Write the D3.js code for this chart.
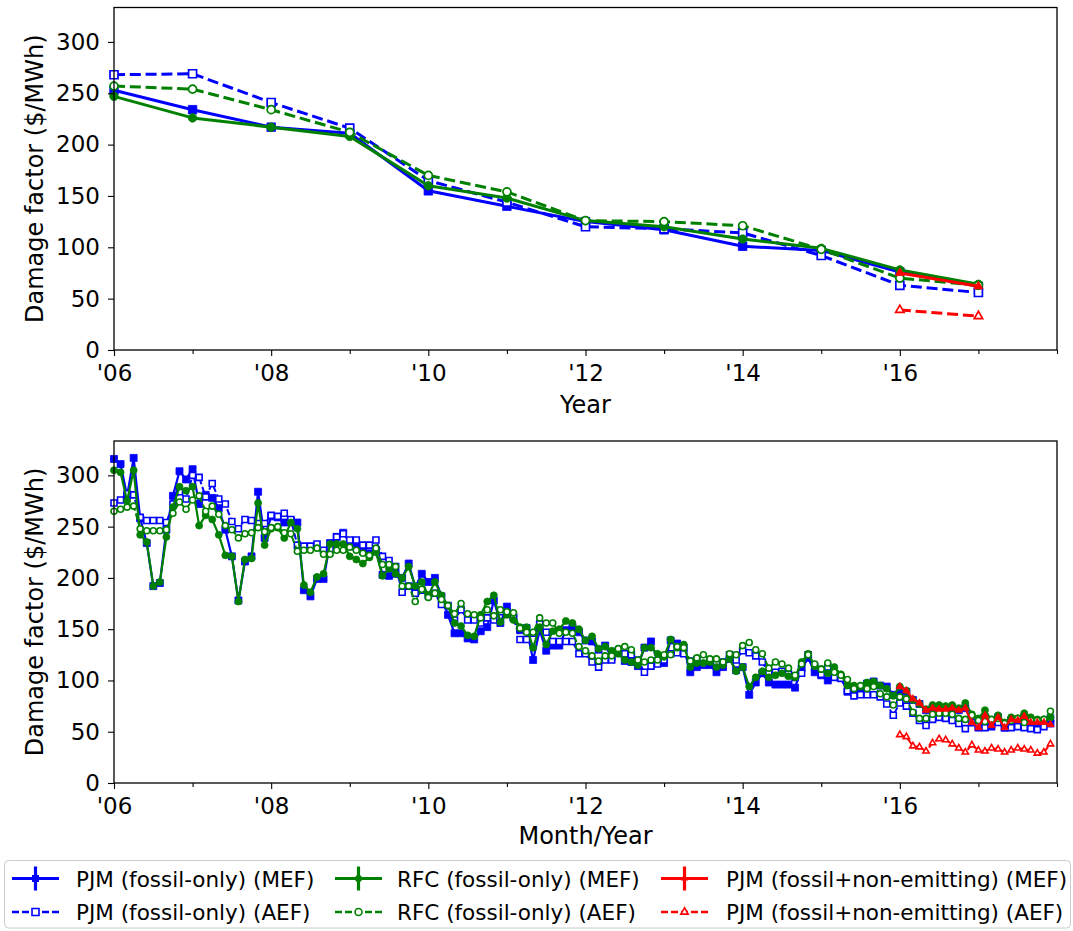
<!DOCTYPE html>
<html>
<head>
<meta charset="utf-8">
<script src="https://d3js.org/d3.v7.min.js"></script>
<style>
  body { margin: 0; background: #fff; }
  svg { display: block; font-family: "DejaVu Sans", sans-serif; }
</style>
</head>
<body>
<script>
// ---- annual damage factors ($/MWh) ----
var years = [2006, 2007, 2008, 2009, 2010, 2011, 2012, 2013, 2014, 2015, 2016, 2017];
var pjmMefYear = [253, 234, 217, 211, 155, 140, 125, 117, 101, 97, 76, 62];
var pjmAefYear = [268, 269, 241, 216, 165, 144, 120, 118, 114, 92, 63, 56];
var rfcMefYear = [247, 226, 217, 208, 160, 148, 126, 120, 108, 99, 78, 64];
var rfcAefYear = [257, 254, 234, 212, 170, 154, 126, 125, 121, 98, 70, 63];
var nonEmitYears = [2016, 2017];
var pjmNeMefYear = [75, 62];
var pjmNeAefYear = [39, 33];

// ---- monthly damage factors, Jan 2006 .. Dec 2017 ----
var months = d3.range(144).map(function(i) { return 2006 + i / 12; });
var pjmMefMonth = [
  316, 311, 280, 317, 258, 234, 192, 195, 247, 280, 304, 296,
  306, 272, 281, 278, 268, 247, 221, 178, 216, 221, 284, 239,
  260, 259, 254, 256, 254, 188, 182, 199, 199, 234, 240, 244,
  234, 230, 226, 224, 227, 203, 202, 204, 200, 214, 191, 204,
  196, 200, 182, 164, 146, 146, 141, 140, 148, 152, 178, 156,
  172, 162, 149, 151, 120, 149, 129, 134, 134, 149, 152, 147,
  139, 138, 130, 134, 123, 127, 119, 118, 114, 132, 138, 119,
  117, 139, 136, 132, 108, 113, 115, 115, 108, 113, 121, 110,
  113, 86, 98, 107, 98, 96, 96, 96, 93, 112, 122, 108,
  105, 100, 106, 103, 89, 88, 91, 97, 99, 95, 94, 86,
  90, 89, 81, 77, 71, 73, 72, 72, 73, 71, 73, 59,
  54, 64, 55, 64, 54, 61, 60, 64, 59, 59, 59, 58
];
var pjmAefMonth = [
  273, 276, 282, 281, 259, 256, 256, 256, 254, 272, 284, 277,
  300, 298, 279, 292, 277, 272, 255, 248, 257, 256, 253, 253,
  261, 260, 263, 257, 232, 231, 231, 233, 227, 228, 240, 243,
  237, 237, 232, 232, 237, 221, 217, 211, 186, 192, 185, 188,
  183, 185, 174, 173, 159, 169, 159, 159, 156, 161, 159, 167,
  167, 161, 140, 140, 146, 155, 147, 138, 138, 138, 138, 126,
  126, 118, 113, 120, 120, 129, 126, 125, 120, 108, 114, 116,
  120, 126, 127, 126, 119, 120, 116, 118, 116, 118, 125, 120,
  129, 127, 124, 118, 107, 108, 109, 106, 103, 107, 125, 113,
  106, 113, 103, 102, 90, 85, 86, 86, 86, 84, 77, 66,
  78, 75, 68, 61, 56, 62, 64, 63, 61, 58, 53, 59,
  55, 54, 57, 59, 54, 54, 55, 54, 53, 52, 55, 63
];
var rfcMefMonth = [
  305, 303, 275, 305, 242, 235, 192, 196, 240, 269, 289, 285,
  289, 251, 261, 257, 242, 222, 221, 177, 218, 219, 273, 232,
  248, 249, 239, 254, 248, 193, 186, 201, 204, 233, 233, 233,
  221, 218, 214, 220, 225, 202, 209, 204, 200, 211, 192, 196,
  183, 196, 183, 173, 156, 153, 144, 143, 164, 177, 183, 157,
  164, 159, 152, 152, 132, 152, 135, 148, 150, 158, 156, 150,
  139, 143, 131, 133, 129, 126, 120, 118, 115, 132, 132, 126,
  123, 140, 132, 135, 113, 117, 117, 118, 113, 115, 121, 109,
  113, 94, 103, 109, 103, 105, 107, 104, 103, 118, 126, 114,
  111, 107, 113, 106, 95, 95, 94, 98, 99, 95, 92, 85,
  94, 90, 81, 77, 72, 76, 76, 75, 76, 73, 78, 67,
  63, 71, 61, 66, 59, 64, 63, 68, 64, 62, 62, 64
];
var rfcAefMonth = [
  265, 267, 269, 270, 248, 246, 246, 246, 247, 263, 274, 267,
  276, 280, 265, 270, 262, 251, 247, 239, 243, 244, 249, 245,
  249, 250, 244, 243, 226, 227, 227, 229, 223, 223, 227, 227,
  230, 227, 224, 222, 229, 213, 213, 211, 192, 192, 177, 189,
  181, 185, 179, 173, 165, 175, 165, 164, 161, 169, 163, 169,
  167, 166, 151, 147, 147, 161, 156, 156, 146, 147, 146, 133,
  129, 124, 119, 124, 124, 131, 133, 130, 120, 118, 120, 120,
  125, 125, 133, 132, 119, 122, 125, 121, 121, 118, 126, 125,
  134, 137, 130, 126, 112, 118, 116, 112, 105, 116, 125, 116,
  111, 117, 108, 105, 101, 92, 95, 92, 94, 87, 84, 76,
  84, 82, 69, 63, 63, 67, 68, 68, 67, 63, 62, 66,
  61, 60, 62, 63, 58, 61, 63, 59, 61, 61, 62, 70
];
var nonEmitMonths = months.slice(120);
var pjmNeMefMonth = [
  94, 90, 82, 78, 71, 73, 72, 72, 73, 71, 73, 59,
  54, 66, 56, 64, 54, 62, 61, 65, 59, 59, 59, 57
];
var pjmNeAefMonth = [
  47, 45, 36, 35, 31, 39, 43, 42, 38, 34, 30, 37,
  32, 31, 34, 33, 30, 32, 34, 33, 32, 29, 30, 38
];

var majorYears = [2006, 2008, 2010, 2012, 2014, 2016];
var minorYears = [2007, 2009, 2011, 2013, 2015, 2017, 2018];
var yTicks = [0, 50, 100, 150, 200, 250, 300];

// series look, in drawing order
var seriesDefs = [
  { name: "PJM (fossil-only) (MEF)", color: "#0000ff", shape: "square", kind: "mef" },
  { name: "PJM (fossil-only) (AEF)", color: "#0000ff", shape: "square", kind: "aef" },
  { name: "RFC (fossil-only) (MEF)", color: "#008000", shape: "circle", kind: "mef" },
  { name: "RFC (fossil-only) (AEF)", color: "#008000", shape: "circle", kind: "aef" },
  { name: "PJM (fossil+non-emitting) (MEF)", color: "#ff0000", shape: "triangle", kind: "mef" },
  { name: "PJM (fossil+non-emitting) (AEF)", color: "#ff0000", shape: "triangle", kind: "aef" }
];

var annual = [
  [years, pjmMefYear], [years, pjmAefYear], [years, rfcMefYear],
  [years, rfcAefYear], [nonEmitYears, pjmNeMefYear], [nonEmitYears, pjmNeAefYear]
];
var monthly = [
  [months, pjmMefMonth], [months, pjmAefMonth], [months, rfcMefMonth],
  [months, rfcAefMonth], [nonEmitMonths, pjmNeMefMonth], [nonEmitMonths, pjmNeAefMonth]
];

var svg = d3.select("body").append("svg")
    .attr("width", 1073)
    .attr("height", 931);

var x = d3.scaleLinear().domain([2006, 2018]).range([114, 1057]);

function markerPath(shape, size) {
  // size = marker width in px
  if (shape == "square") return d3.symbol().type(d3.symbolSquare).size(size * size)();
  if (shape == "circle") return d3.symbol().type(d3.symbolCircle).size(Math.PI * size * size / 4)();
  return d3.symbol().type(d3.symbolTriangle).size(Math.sqrt(3) / 4 * size * size * 1.1)();
}

function drawPanel(top, bottom, data, st, xTitle, titleY) {
  var y = d3.scaleLinear().domain([0, 333.5]).range([bottom, top]);
  var g = svg.append("g");

  var line = d3.line()
      .x(function(d) { return x(d[0]); })
      .y(function(d) { return y(d[1]); });

  data.forEach(function(s, i) {
    var def = seriesDefs[i];
    var pts = s[0].map(function(t, j) { return [t, s[1][j]]; });
    var aef = def.kind == "aef";

    g.append("path")
        .datum(pts)
        .attr("d", line)
        .attr("fill", "none")
        .attr("stroke", def.color)
        .attr("stroke-width", aef ? st.aefWidth : st.mefWidth)
        .attr("stroke-dasharray", aef ? st.dash : null)
        .attr("stroke-linejoin", "round");

    g.selectAll(".m" + i)
        .data(pts)
        .enter()
        .append("path")
        .attr("class", "m" + i)
        .attr("transform", function(d) { return "translate(" + x(d[0]) + "," + y(d[1]) + ")"; })
        .attr("d", markerPath(def.shape, aef ? st.openSize : st.fillSize))
        .attr("fill", aef ? "#fff" : def.color)
        .attr("stroke", def.color)
        .attr("stroke-width", aef ? st.openStroke : 0.8);
  });

  // ticks
  var xMajor = g.append("g")
      .attr("transform", "translate(0," + bottom + ")")
      .call(d3.axisBottom(x).tickValues(majorYears).tickSize(6).tickPadding(9)
        .tickFormat(function(d) { return "'" + String(d).slice(2); }));
  var xMinor = g.append("g")
      .attr("transform", "translate(0," + bottom + ")")
      .call(d3.axisBottom(x).tickValues(minorYears).tickSize(4).tickFormat(""));
  var yAxis = g.append("g")
      .attr("transform", "translate(114,0)")
      .call(d3.axisLeft(y).tickValues(yTicks).tickSize(6).tickPadding(8));

  [xMajor, xMinor, yAxis].forEach(function(a) {
    a.select(".domain").remove();
    a.selectAll("line").attr("stroke", "#000").attr("stroke-width", 1.1);
    a.selectAll("text")
        .attr("fill", "#000")
        .style("font-size", "23px")
        .style("font-family", "DejaVu Sans, sans-serif");
  });

  // frame
  g.append("rect")
      .attr("x", 114)
      .attr("y", top)
      .attr("width", 1057 - 114)
      .attr("height", bottom - top)
      .attr("fill", "none")
      .attr("stroke", "#000")
      .attr("stroke-width", 1.3);

  g.append("text")
      .attr("x", (114 + 1057) / 2)
      .attr("y", titleY)
      .attr("text-anchor", "middle")
      .style("font-size", "24px")
      .text(xTitle);

  g.append("text")
      .attr("transform", "translate(43," + (top + bottom) / 2 + ") rotate(-90)")
      .attr("text-anchor", "middle")
      .style("font-size", "24px")
      .text("Damage factor ($/MWh)");
}

drawPanel(7.5, 350, annual,
  { mefWidth: 3, aefWidth: 3, dash: "11,4.8", fillSize: 8.5, openSize: 8, openStroke: 1.7 },
  "Year", 413);

drawPanel(441, 783, monthly,
  { mefWidth: 2.2, aefWidth: 2, dash: "6.5,2.8", fillSize: 7, openSize: 6, openStroke: 1.6 },
  "Month/Year", 844);

// legend
var legend = svg.append("g");
legend.append("rect")
    .attr("x", 4.5)
    .attr("y", 860.5)
    .attr("width", 1066)
    .attr("height", 67.5)
    .attr("rx", 4)
    .attr("fill", "#fff")
    .attr("stroke", "#cccccc")
    .attr("stroke-width", 1);

var colHandle = [12, 335, 661];
var colText = [76, 397, 726];
var rowY = [878.5, 912];

seriesDefs.forEach(function(def, i) {
  var col = Math.floor(i / 2);
  var row = i % 2;
  var cy = rowY[row];
  var x0 = colHandle[col];
  var cx = x0 + 23.5;
  var item = legend.append("g");

  if (def.kind == "mef") {
    item.append("line")
        .attr("x1", x0).attr("x2", x0 + 47)
        .attr("y1", cy).attr("y2", cy)
        .attr("stroke", def.color).attr("stroke-width", 3.2);
    item.append("line")
        .attr("x1", cx).attr("x2", cx)
        .attr("y1", cy - 12).attr("y2", cy + 12)
        .attr("stroke", def.color).attr("stroke-width", 3.2);
    item.append("path")
        .attr("transform", "translate(" + cx + "," + cy + ")")
        .attr("d", markerPath(def.shape, 7))
        .attr("fill", def.color);
  } else {
    item.append("line")
        .attr("x1", x0).attr("x2", x0 + 47)
        .attr("y1", cy).attr("y2", cy)
        .attr("stroke", def.color).attr("stroke-width", 2.6)
        .attr("stroke-dasharray", "7,3");
    item.append("path")
        .attr("transform", "translate(" + cx + "," + cy + ")")
        .attr("d", markerPath(def.shape, 7))
        .attr("fill", "#fff")
        .attr("stroke", def.color)
        .attr("stroke-width", 1.6);
  }

  item.append("text")
      .attr("x", colText[col])
      .attr("y", cy + 8)
      .style("font-size", "21.5px")
      .text(def.name);
});
</script>
</body>
</html>
